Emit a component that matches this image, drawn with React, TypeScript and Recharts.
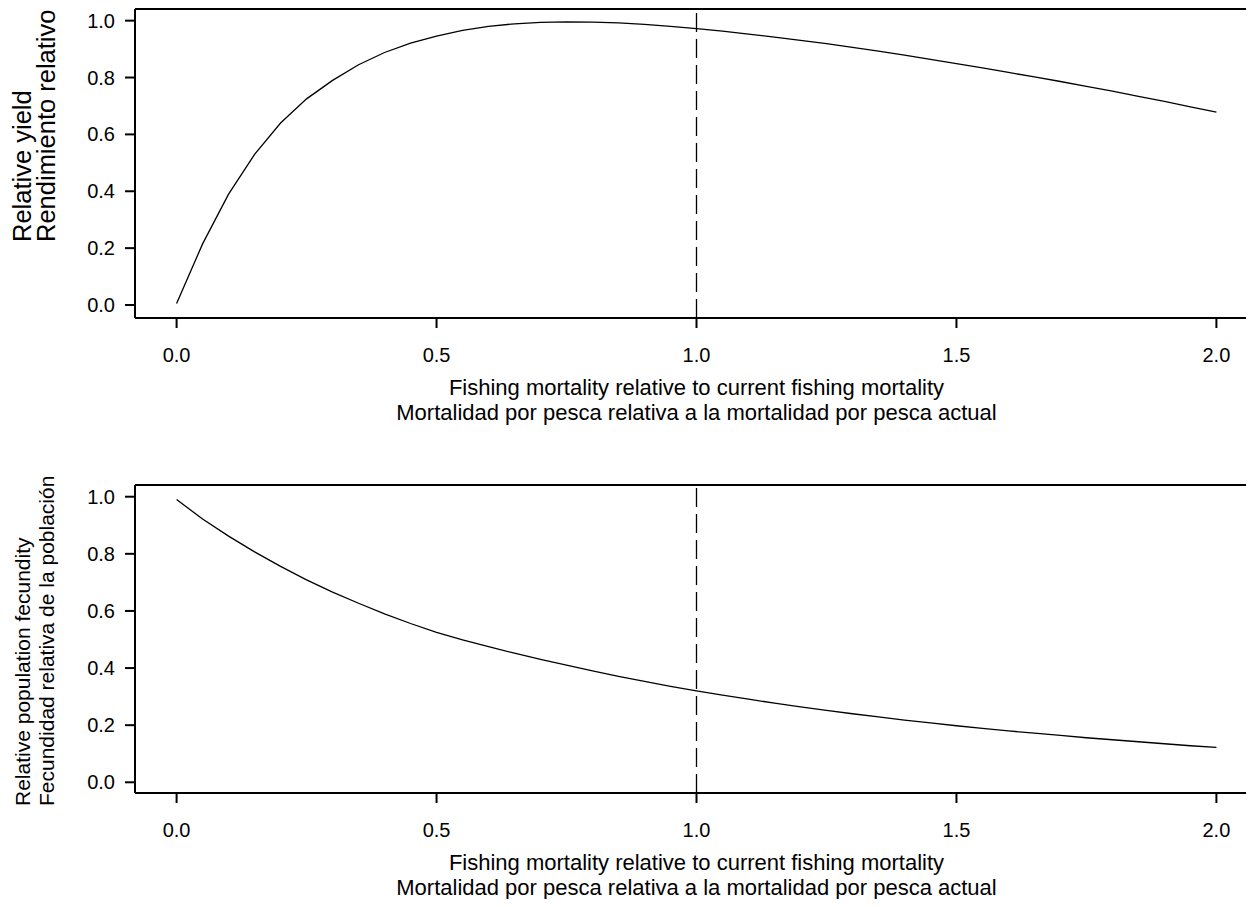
import { LineChart, Line, XAxis, YAxis, ReferenceLine, Label } from "recharts"

const fishingMult = [
  0, 0.05, 0.1, 0.15, 0.2, 0.25, 0.3, 0.35, 0.4, 0.45, 0.5, 0.55, 0.6, 0.65, 0.7, 0.75, 0.8, 0.85, 0.9, 0.95, 1.0,
  1.05, 1.1, 1.15, 1.2, 1.25, 1.3, 1.35, 1.4, 1.45, 1.5, 1.55, 1.6, 1.65, 1.7, 1.75, 1.8, 1.85, 1.9, 1.95, 2.0,
]

const relativeYield = [
  0.005, 0.215, 0.39, 0.53, 0.64, 0.725, 0.79, 0.845, 0.888, 0.921, 0.946, 0.966, 0.98, 0.989, 0.994, 0.996, 0.995,
  0.992, 0.987, 0.98, 0.972, 0.963, 0.953, 0.942, 0.931, 0.919, 0.906, 0.893, 0.879, 0.864, 0.849, 0.834, 0.818,
  0.802, 0.786, 0.769, 0.752, 0.734, 0.716, 0.697, 0.678,
]

const relativeFecundity = [
  0.99, 0.922, 0.862, 0.807, 0.756, 0.709, 0.666, 0.627, 0.59, 0.556, 0.525, 0.499, 0.475, 0.452, 0.43, 0.41, 0.39,
  0.371, 0.353, 0.336, 0.32, 0.305, 0.291, 0.277, 0.264, 0.252, 0.24, 0.229, 0.218, 0.208, 0.198, 0.189, 0.18, 0.172,
  0.164, 0.156, 0.149, 0.142, 0.135, 0.128, 0.122,
]

const xTicks = [0, 0.5, 1.0, 1.5, 2.0]
const yTicks = [0, 0.2, 0.4, 0.6, 0.8, 1.0]
const currentF = 1.0

const xLabelLines = [
  "Fishing mortality relative to current fishing mortality",
  "Mortalidad por pesca relativa a la mortalidad por pesca actual",
]
const yieldLabelLines = ["Relative yield", "Rendimiento relativo"]
const fecundityLabelLines = ["Relative population fecundity", "Fecundidad relativa de la población"]

const FONT = "'Liberation Sans', Arial, sans-serif"

const yieldData = fishingMult.map((f, i) => ({ f, value: relativeYield[i] }))
const fecundityData = fishingMult.map((f, i) => ({ f, value: relativeFecundity[i] }))

interface PanelProps {
  data: { f: number; value: number }[]
  yLines: string[]
  top: number
  height: number
  marginTop: number
  plotHeight: number
  yDomain: [number, number]
  yTitleStart: number // y (within panel) where the rotated titles begin
  yTitleSize: number
}

function Panel({ data, yLines, top, height, marginTop, plotHeight, yDomain, yTitleStart, yTitleSize }: PanelProps) {
  const xAxisHeight = height - marginTop - plotHeight

  // two-line x title under the axis
  const xTitle = (props: any) => {
    const vb = props.viewBox
    const cx = vb.x + vb.width / 2
    return (
      <g>
        <text x={cx} y={vb.y + 77} textAnchor="middle" fontSize={22} fontFamily={FONT} fill="#000">
          {xLabelLines[0]}
        </text>
        <text x={cx} y={vb.y + 102} textAnchor="middle" fontSize={22} fontFamily={FONT} fill="#000">
          {xLabelLines[1]}
        </text>
      </g>
    )
  }

  const yTitle = () => {
    const y0 = yTitleStart
    const b1 = 25 + yTitleSize * 0.25
    const b2 = 49 + yTitleSize * 0.25
    return (
      <g>
        <text x={b1} y={y0} transform={`rotate(-90 ${b1} ${y0})`} textAnchor="start" fontSize={yTitleSize} fontFamily={FONT} fill="#000">
          {yLines[0]}
        </text>
        <text x={b2} y={y0} transform={`rotate(-90 ${b2} ${y0})`} textAnchor="start" fontSize={yTitleSize} fontFamily={FONT} fill="#000">
          {yLines[1]}
        </text>
      </g>
    )
  }

  return (
    <div style={{ position: "absolute", left: 0, top }}>
      <LineChart width={1300} height={height} data={data} margin={{ top: marginTop, right: 42, bottom: 0, left: 0 }}>
        <XAxis
          dataKey="f"
          type="number"
          domain={[-0.08, 2.08]}
          ticks={xTicks}
          tickFormatter={(v: number) => v.toFixed(1)}
          height={xAxisHeight}
          tickSize={10}
          tickMargin={20}
          axisLine={{ stroke: "#000", strokeWidth: 2 }}
          tickLine={{ stroke: "#000", strokeWidth: 2 }}
          tick={{ fill: "#000", fontSize: 20, fontFamily: FONT }}
          allowDataOverflow
        >
          <Label content={xTitle} />
        </XAxis>
        <YAxis
          type="number"
          domain={yDomain}
          ticks={yTicks}
          tickFormatter={(v: number) => v.toFixed(1)}
          width={135}
          tickSize={10}
          tickMargin={10}
          axisLine={{ stroke: "#000", strokeWidth: 2 }}
          tickLine={{ stroke: "#000", strokeWidth: 2 }}
          tick={{ fill: "#000", fontSize: 20, fontFamily: FONT }}
          allowDataOverflow
        >
          <Label content={yTitle} />
        </YAxis>
        <ReferenceLine y={yDomain[1]} stroke="#000" strokeWidth={2} />
        <ReferenceLine x={currentF} stroke="#000" strokeWidth={1.3} strokeDasharray="19 7" />
        <Line
          type="linear"
          dataKey="value"
          stroke="#000"
          strokeWidth={1.3}
          dot={false}
          isAnimationActive={false}
        />
      </LineChart>
    </div>
  )
}

export default function App() {
  return (
    <div
      style={{
        position: "relative",
        width: 1254,
        height: 907,
        margin: -8,
        overflow: "hidden",
        background: "#fff",
        fontFamily: FONT,
      }}
    >
      <Panel
        data={yieldData}
        yLines={yieldLabelLines}
        top={0}
        height={475}
        marginTop={9}
        plotHeight={309}
        yDomain={[-0.0457, 1.041]}
        yTitleStart={242}
        yTitleSize={25.5}
      />
      <Panel
        data={fecundityData}
        yLines={fecundityLabelLines}
        top={475}
        height={432}
        marginTop={10}
        plotHeight={308}
        yDomain={[-0.0375, 1.041]}
        yTitleStart={331}
        yTitleSize={21}
      />
    </div>
  )
}
